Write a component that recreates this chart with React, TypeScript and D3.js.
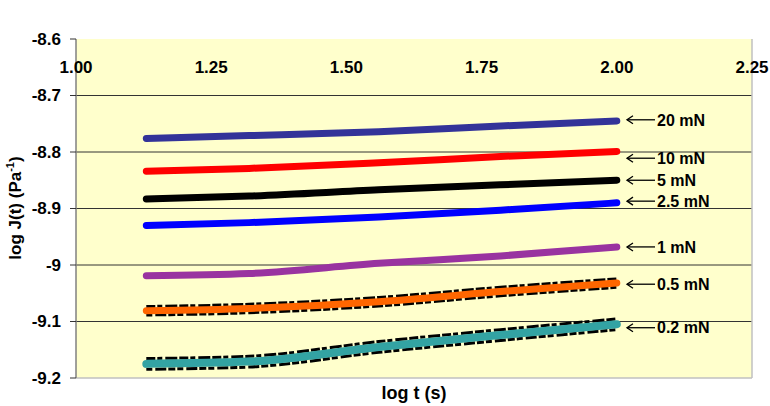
import React from 'react';
import * as d3 from 'd3';

const logT = [1.13, 1.32, 1.56, 1.785, 2.0];
const s20 = [-8.776, -8.771, -8.764, -8.754, -8.745];
const s10 = [-8.834, -8.829, -8.819, -8.808, -8.799];
const s5 = [-8.883, -8.878, -8.867, -8.858, -8.85];
const s2p5 = [-8.93, -8.925, -8.915, -8.903, -8.89];
const s1 = [-9.019, -9.015, -8.997, -8.984, -8.968];
const s0p5 = [-9.081, -9.077, -9.065, -9.047, -9.032];
const s0p2 = [-9.175, -9.171, -9.145, -9.124, -9.105];

const seriesLabels = ['20 mN', '10 mN', '5 mN', '2.5 mN', '1 mN', '0.5 mN', '0.2 mN'];
const seriesValues = [s20, s10, s5, s2p5, s1, s0p5, s0p2];
const seriesColors = ['#333399', '#FF0000', '#000000', '#0000FF', '#9933A0', '#FF6600', '#33A3A3'];
const errorHalf = [0, 0, 0, 0, 0, 0.0075, 0.0095];
const arrowY = [-8.743, -8.811, -8.85, -8.887, -8.968, -9.034, -9.111];

const xTicks = [1.0, 1.25, 1.5, 1.75, 2.0, 2.25];
const xTickLabels = ['1.00', '1.25', '1.50', '1.75', '2.00', '2.25'];
const yTicks = [-8.6, -8.7, -8.8, -8.9, -9.0, -9.1, -9.2];
const yTickLabels = ['-8.6', '-8.7', '-8.8', '-8.9', '-9', '-9.1', '-9.2'];

const W = 770, H = 406;
const plot = { left: 76, right: 752, top: 39, bottom: 378 };
const font = 'Arial, "Liberation Sans", Helvetica, sans-serif';

export default function App() {
  const x = d3.scaleLinear().domain([1.0, 2.25]).range([plot.left, plot.right]);
  const y = d3.scaleLinear().domain([-8.6, -9.2]).range([plot.top, plot.bottom]);
  const line = d3.line<[number, number]>().x(d => x(d[0])).y(d => y(d[1])).curve(d3.curveMonotoneX);

  const arrowX0 = 627, arrowX1 = 655;

  return (
    <div style={{ position: 'absolute', left: 0, top: 0 }}>
      <svg width={W} height={H} style={{ display: 'block', background: '#fff' }} fontFamily={font}>
        <rect x={plot.left} y={plot.top} width={plot.right - plot.left} height={plot.bottom - plot.top} fill="#FFFFCC" />
        {yTicks.slice(1, -1).map((t, i) => (
          <line key={'g' + i} x1={plot.left} x2={plot.right} y1={y(t)} y2={y(t)} stroke="#333" strokeWidth={1} />
        ))}
        <line x1={plot.right} x2={plot.right} y1={plot.top} y2={plot.bottom} stroke="#c0c0c0" strokeWidth={1.5} />
        <line x1={plot.left} x2={plot.right} y1={plot.bottom} y2={plot.bottom} stroke="#c0c0c0" strokeWidth={1.5} />
        <line x1={plot.left} x2={plot.left} y1={plot.top} y2={plot.bottom} stroke="#808080" strokeWidth={1.5} />
        {yTicks.map((t, i) => (
          <g key={'yt' + i}>
            <line x1={plot.left - 6} x2={plot.left} y1={y(t)} y2={y(t)} stroke="#333" strokeWidth={1} />
            <text x={61} y={y(t)} dy="0.35em" textAnchor="end" fontSize={17} fontWeight="bold">{yTickLabels[i]}</text>
          </g>
        ))}
        {xTicks.map((t, i) => (
          <text key={'xt' + i} x={x(t)} y={73} textAnchor="middle" fontSize={17} fontWeight="bold">{xTickLabels[i]}</text>
        ))}
        {seriesValues.map((vals, si) => {
          const pts = vals.map((v, j) => [logT[j], v] as [number, number]);
          const e = errorHalf[si];
          return (
            <g key={'s' + si}>
              {e > 0 && (
                <>
                  <path d={line(vals.map((v, j) => [logT[j], v + e] as [number, number])) || ''} fill="none" stroke="#000" strokeWidth={3} strokeDasharray="9 2 5 3 12 2" />
                  <path d={line(vals.map((v, j) => [logT[j], v - e] as [number, number])) || ''} fill="none" stroke="#000" strokeWidth={3} strokeDasharray="6 3 11 2 7 2" />
                </>
              )}
              <path d={line(pts) || ''} fill="none" stroke={seriesColors[si]} strokeWidth={si === 6 ? 8 : 7} strokeLinecap="round" />
            </g>
          );
        })}
        {seriesLabels.map((lab, i) => {
          const ay = y(arrowY[i]);
          return (
            <g key={'a' + i}>
              <line x1={arrowX0} x2={arrowX1} y1={ay} y2={ay} stroke="#000" strokeWidth={1.3} />
              <path d={`M${arrowX0 + 6},${ay - 4} L${arrowX0},${ay} L${arrowX0 + 6},${ay + 4}`} fill="none" stroke="#000" strokeWidth={1.3} />
              <text x={657} y={ay} dy="0.36em" fontSize={16} fontWeight="bold">{lab}</text>
            </g>
          );
        })}
        <text x={(plot.left + plot.right) / 2} y={399} textAnchor="middle" fontSize={18} fontWeight="bold">log t (s)</text>
        <text transform={`translate(21,${208}) rotate(-90)`} textAnchor="middle" fontSize={17} fontWeight="bold">
          log J(t) (Pa<tspan dy={-7} fontSize={11}>-1</tspan><tspan dy={7}>)</tspan>
        </text>
      </svg>
    </div>
  );
}
